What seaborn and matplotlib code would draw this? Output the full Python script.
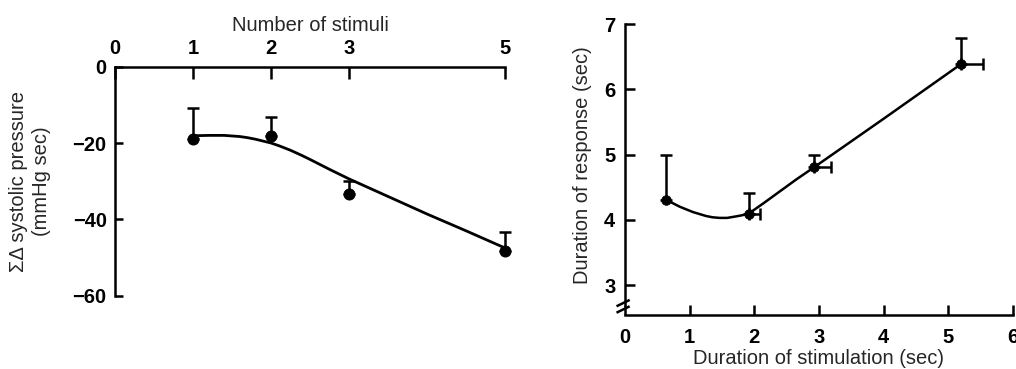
import numpy as np
import pandas as pd
import matplotlib
matplotlib.use("Agg")
import matplotlib.pyplot as plt
import seaborn as sns

sns.set_style("ticks")
plt.rcParams["font.family"] = ["Liberation Sans", "DejaVu Sans"]
plt.rcParams["axes.unicode_minus"] = True

# ---- Left panel: summed systolic pressure change vs number of stimuli ----
stim_n = [1, 2, 3, 5]
pressure = [-19.0, -18.1, -33.4, -48.2]
pressure_err = [8.1, 5.0, 3.5, 4.8]
fit_n = [1.0, 1.2, 1.4, 1.6, 1.7, 1.8, 1.9, 2.0, 2.1, 2.25, 2.4, 2.5, 2.75,
         3.0, 3.5, 4.0, 4.5, 5.0]
fit_pressure = [-18.1, -18.0, -18.0, -18.3, -18.6, -19.0, -19.5, -20.0, -20.7,
                -21.9, -23.3, -24.3, -26.9, -29.4, -34.0, -38.6, -43.0, -47.5]
left_xticks = [0, 1, 2, 3, 5]
left_yticks = [0, -20, -40, -60]

# ---- Right panel: response duration vs stimulation duration ----
stim_dur = [0.64, 1.92, 2.93, 5.20]
resp_dur = [4.31, 4.09, 4.81, 6.39]
resp_err = [0.69, 0.32, 0.19, 0.40]
stim_dur_err = [0.0, 0.17, 0.25, 0.34]
fit_dur = [0.64, 0.75, 0.85, 0.95, 1.05, 1.15, 1.25, 1.35, 1.46, 1.58, 1.70,
           1.81, 1.92, 2.15, 2.40, 2.65, 2.93, 4.0, 5.20]
fit_resp = [4.31, 4.25, 4.20, 4.16, 4.12, 4.09, 4.06, 4.04, 4.03, 4.03, 4.05,
            4.07, 4.10, 4.26, 4.44, 4.62, 4.81, 5.55, 6.39]
right_xticks = [0, 1, 2, 3, 4, 5, 6]
right_yticks = [3, 4, 5, 6, 7]

W, H = 1016, 369
fig = plt.figure(figsize=(W / 100, H / 100), dpi=100)
ax1 = fig.add_axes([0.1132, 0.1986, 0.3839, 0.6207])
ax2 = fig.add_axes([0.6152, 0.1463, 0.3816, 0.7878])

ink = "black"
tick_font = dict(fontsize=14.5, fontweight="bold")
label_font = dict(fontsize=14.5)

# Left panel drawing
df_fit1 = pd.DataFrame({"n": fit_n, "p": fit_pressure})
df_pts1 = pd.DataFrame({"n": stim_n, "p": pressure})
sns.lineplot(data=df_fit1, x="n", y="p", ax=ax1, color=ink, lw=2.0, sort=False,
             estimator=None, clip_on=False)
ax1.errorbar(stim_n, pressure, yerr=[np.zeros(len(pressure_err)), pressure_err],
             fmt="none", ecolor=ink, elinewidth=1.8, capsize=4.5, capthick=1.8,
             clip_on=False)
sns.scatterplot(data=df_pts1, x="n", y="p", ax=ax1, color=ink, s=64,
                edgecolor=ink, zorder=5, clip_on=False)

ax1.set_xlim(0, 5)
ax1.set_ylim(-60, 0)
ax1.xaxis.tick_top()
ax1.xaxis.set_label_position("top")
ax1.set_xticks(left_xticks)
ax1.set_yticks(left_yticks)
ax1.set_xticklabels([str(v) for v in left_xticks], **tick_font)
ax1.set_yticklabels([f"{v}".replace("-", "\u2212") for v in left_yticks], **tick_font)
ax1.tick_params(axis="x", direction="in", length=8.5, width=1.8, pad=6, colors=ink)
ax1.tick_params(axis="y", direction="in", length=6, width=1.8, pad=6, colors=ink)
for side in ("right", "bottom"):
    ax1.spines[side].set_visible(False)
for side in ("left", "top"):
    ax1.spines[side].set_linewidth(1.8)
    ax1.spines[side].set_color(ink)
ax1.set_xlabel("Number of stimuli", labelpad=6, **label_font)
ax1.set_ylabel("")
fig.text(30 / W, 1 - 181 / H, "\u03a3\u0394 systolic pressure\n(mmHg sec)",
         rotation=90, ha="center", va="center", multialignment="center",
         linespacing=1.3, **label_font)

# Right panel drawing
df_fit2 = pd.DataFrame({"d": fit_dur, "r": fit_resp})
df_pts2 = pd.DataFrame({"d": stim_dur, "r": resp_dur})
sns.lineplot(data=df_fit2, x="d", y="r", ax=ax2, color=ink, lw=1.8, sort=False,
             estimator=None)
ax2.errorbar(stim_dur, resp_dur, yerr=[np.zeros(len(resp_err)), resp_err],
             fmt="none", ecolor=ink, elinewidth=1.8, capsize=4, capthick=1.8)
xe_mask = np.array(stim_dur_err) > 0
ax2.errorbar(np.array(stim_dur)[xe_mask], np.array(resp_dur)[xe_mask],
             xerr=[np.zeros(xe_mask.sum()), np.array(stim_dur_err)[xe_mask]],
             fmt="none", ecolor=ink, elinewidth=1.8, capsize=4, capthick=1.8)
sns.scatterplot(data=df_pts2, x="d", y="r", ax=ax2, color=ink, s=48,
                edgecolor=ink, zorder=5)

ax2.set_xlim(0, 6)
ax2.set_ylim(2.54, 7)
ax2.set_xticks(right_xticks)
ax2.set_yticks(right_yticks)
ax2.set_xticklabels([str(v) for v in right_xticks], **tick_font)
ax2.set_yticklabels([str(v) for v in right_yticks], **tick_font)
ax2.tick_params(axis="x", direction="in", length=7, width=1.8, pad=9, colors=ink)
ax2.tick_params(axis="y", direction="in", length=7, width=1.8, pad=7, colors=ink)
for side in ("right", "top"):
    ax2.spines[side].set_visible(False)
for side in ("left", "bottom"):
    ax2.spines[side].set_linewidth(1.8)
    ax2.spines[side].set_color(ink)
ax2.spines["left"].set_bounds(2.7, 7)
ax2.set_xlabel("Duration of stimulation (sec)", labelpad=2, **label_font)
ax2.set_ylabel("")
fig.text(583 / W, 1 - 165 / H, "Duration of response (sec)", rotation=90,
         ha="center", va="center", **label_font)

# Axis break on the response axis
tr = ax2.transAxes
for y0 in (0.018, 0.04):
    ax2.plot([-0.022, 0.012], [y0 - 0.01, y0 + 0.012], transform=tr, color=ink,
             lw=1.8, clip_on=False, solid_capstyle="butt")

fig.savefig("out.png", dpi=100)
